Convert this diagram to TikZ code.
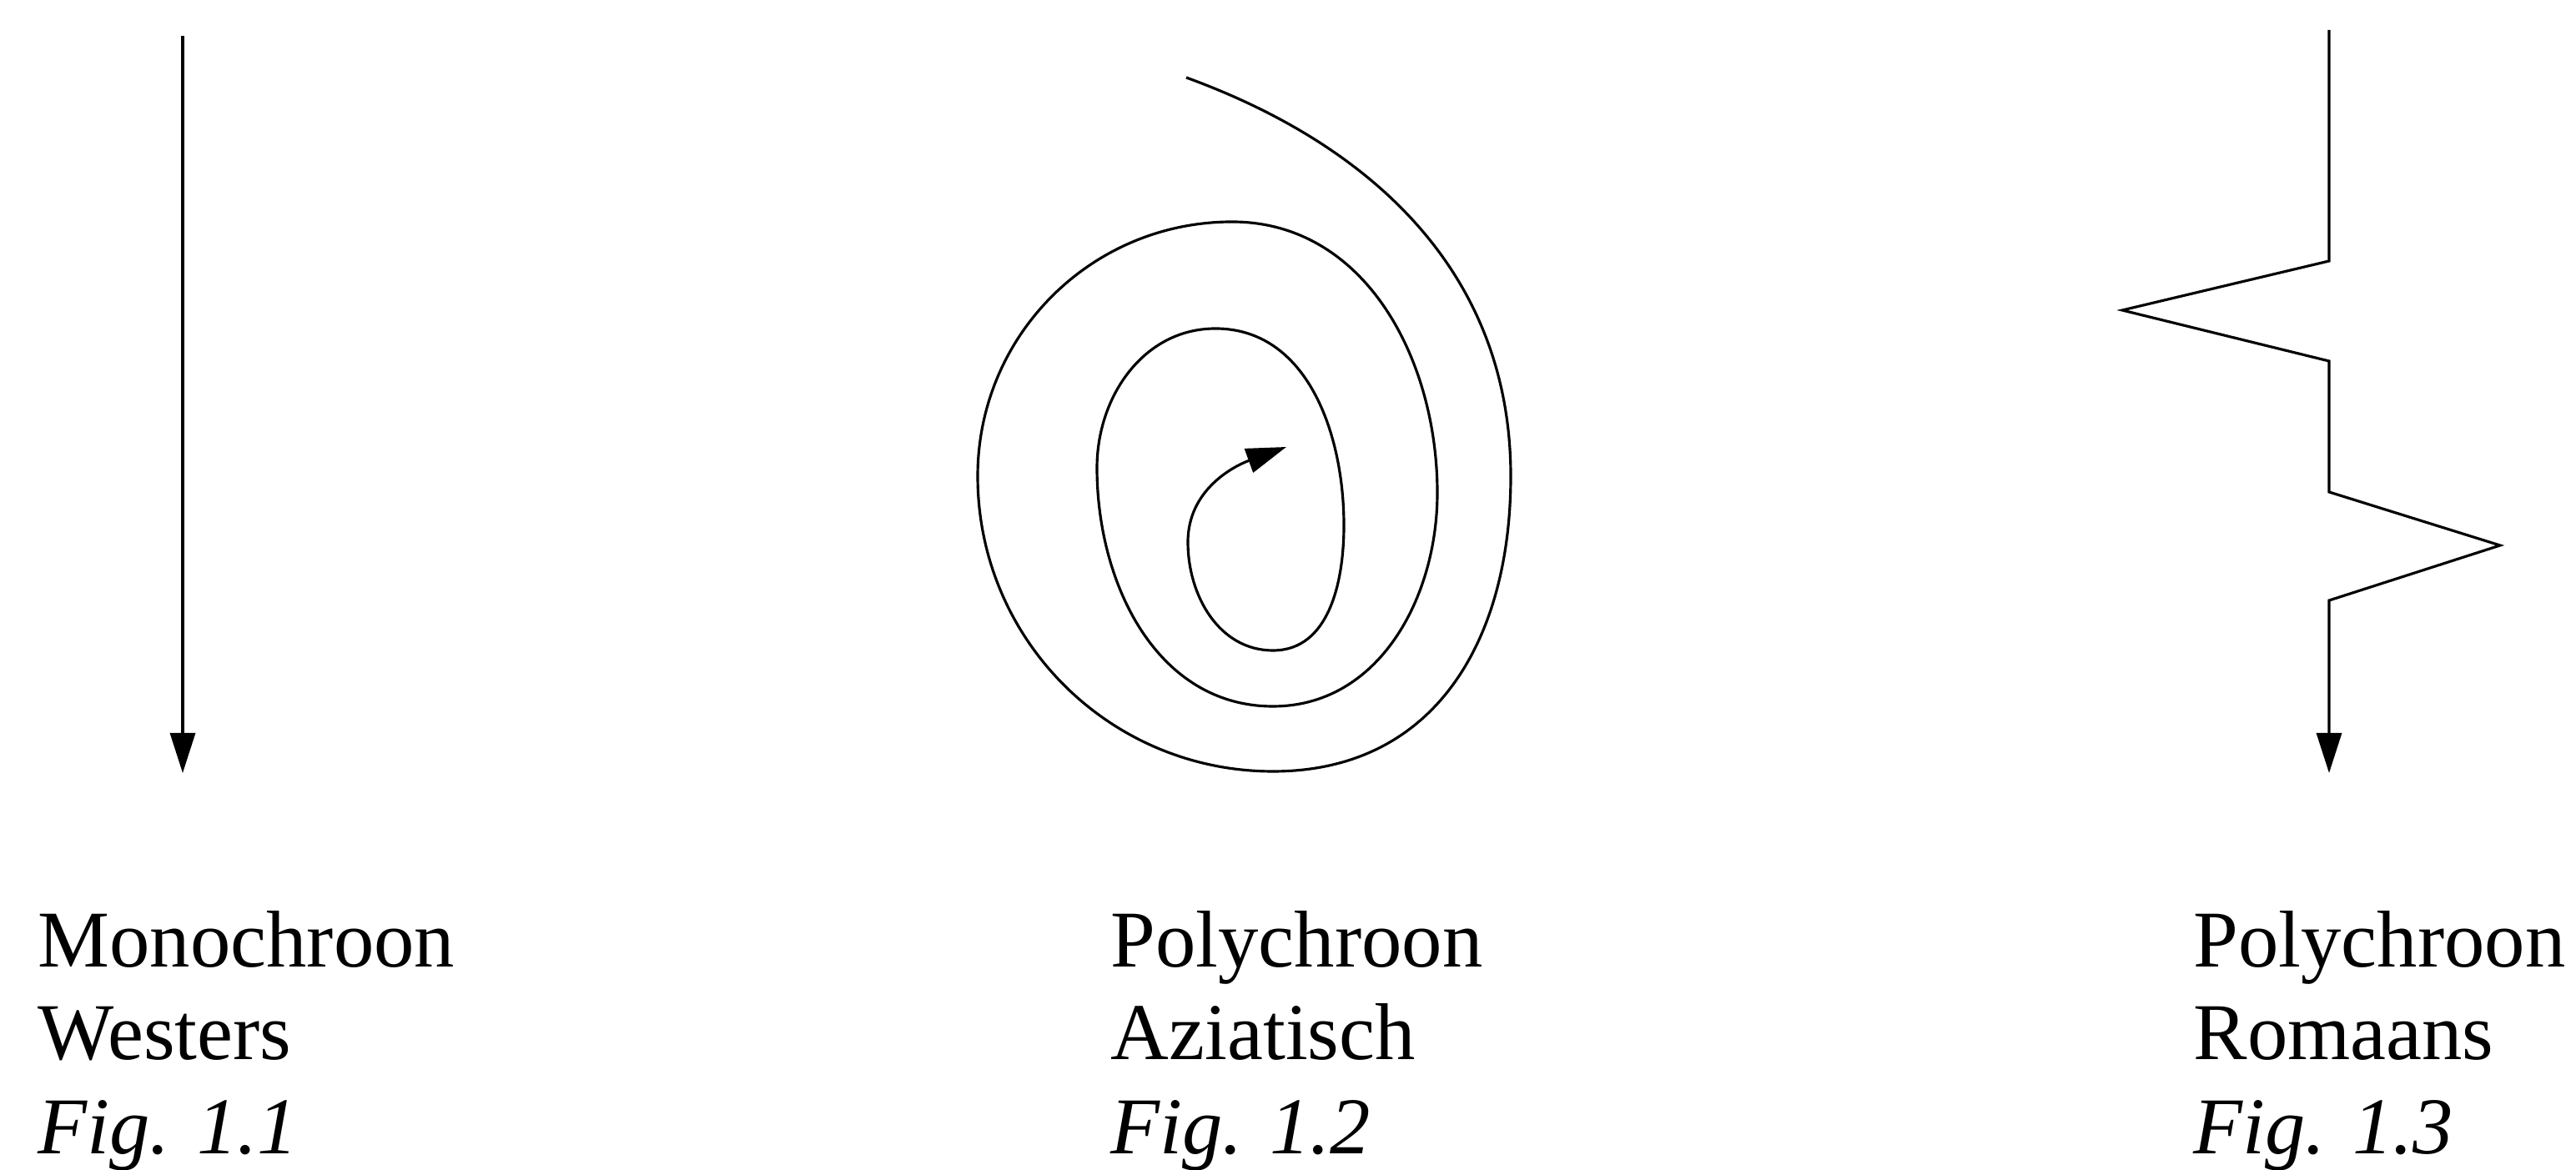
\documentclass[tikz,border=0pt]{standalone}
\usepackage{fontspec}
\setmainfont{Liberation Serif}
\usetikzlibrary{arrows.meta}

\begin{document}
\begin{tikzpicture}[font=\fontsize{27.5}{32}\selectfont,
  timeline/.style={line width=.9pt,-{Triangle[length=.48cm,width=.3cm]}},
  caption/.style={anchor=base west,inner sep=0pt}]
\useasboundingbox (0,0) rectangle (30.88,14.03);
% Fig. 1.1: straight line
\draw[timeline] (2.19,13.60)--(2.19,4.76);
\node[caption] (monoA) at (.45,2.43) {Monochroon};
\node[caption] (monoB) at (.45,1.32) {Westers};
\node[caption,font=\fontsize{27.5}{32}\selectfont\itshape] (monoFig) at (.45,.19) {Fig. 1.1};
% Fig. 1.2: spiral
\draw[timeline] (14.22,13.10) to[out=-20,in=90] (18.11,8.32) to[out=-90,in=0,looseness=1.1] (15.26,4.78)
  to[out=180,in=-90] (11.72,8.32) to[out=90,in=180] (14.77,11.37) to[out=0,in=90] (17.23,8.12)
  to[out=-90,in=0] (15.26,5.56) to[out=180,in=-90] (13.15,8.42) to[out=90,in=180] (14.57,10.09)
  to[out=0,in=90] (16.11,7.73) to[out=-90,in=0] (15.26,6.23) to[out=180,in=-90] (14.24,7.53)
  to[out=90,in=200] (15.42,8.67);
\node[caption] (polyA) at (13.31,2.43) {Polychroon};
\node[caption] (polyB) at (13.31,1.32) {Aziatisch};
\node[caption,font=\fontsize{27.5}{32}\selectfont\itshape] (polyFig) at (13.31,.19) {Fig. 1.2};
% Fig. 1.3: zigzag line
\draw[timeline] (27.92,13.67)--(27.92,10.90)--(25.44,10.31)--(27.92,9.70)--(27.92,8.13)--(29.97,7.49)--(27.92,6.83)--(27.92,4.76);
\node[caption] (romA) at (26.29,2.43) {Polychroon};
\node[caption] (romB) at (26.29,1.32) {Romaans};
\node[caption,font=\fontsize{27.5}{32}\selectfont\itshape] (romFig) at (26.29,.19) {Fig. 1.3};
\end{tikzpicture}
\end{document}
